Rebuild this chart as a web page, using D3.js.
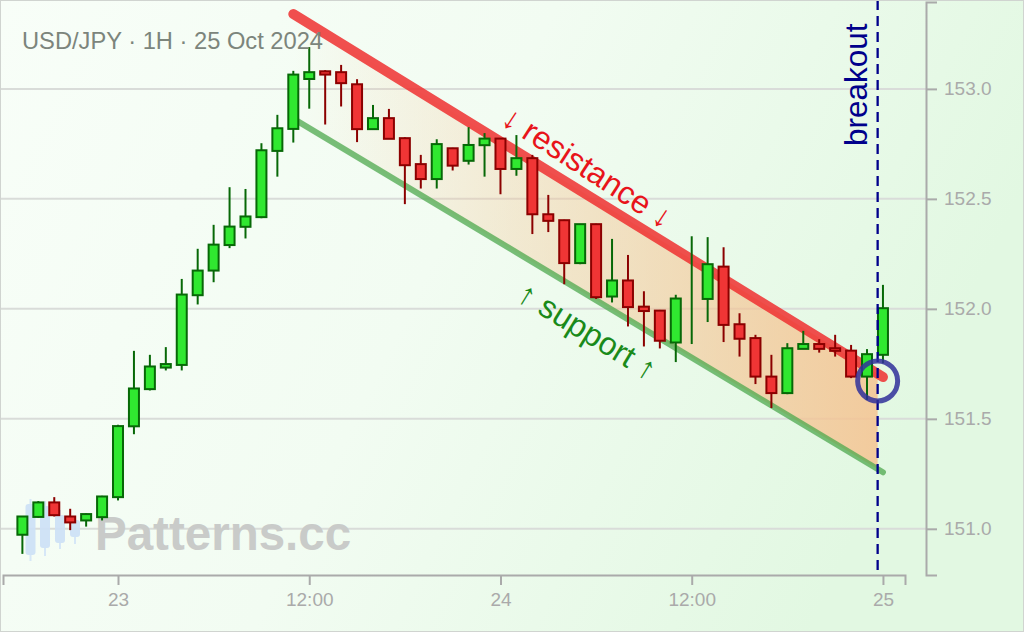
<!DOCTYPE html>
<html><head><meta charset="utf-8">
<script src="https://cdn.jsdelivr.net/npm/d3@7"></script>
<style>html,body{margin:0;padding:0;background:#fff}svg{display:block}</style>
</head><body>
<svg id="chart" width="1024" height="632"></svg>
<script>
// ---------------- data ----------------
const times = [
 "2024-10-22T18:00","2024-10-22T19:00","2024-10-22T20:00","2024-10-22T21:00","2024-10-22T22:00","2024-10-22T23:00",
 "2024-10-23T00:00","2024-10-23T01:00","2024-10-23T02:00","2024-10-23T03:00","2024-10-23T04:00","2024-10-23T05:00",
 "2024-10-23T06:00","2024-10-23T07:00","2024-10-23T08:00","2024-10-23T09:00","2024-10-23T10:00","2024-10-23T11:00",
 "2024-10-23T12:00","2024-10-23T13:00","2024-10-23T14:00","2024-10-23T15:00","2024-10-23T16:00","2024-10-23T17:00",
 "2024-10-23T18:00","2024-10-23T19:00","2024-10-23T20:00","2024-10-23T21:00","2024-10-23T22:00","2024-10-23T23:00",
 "2024-10-24T00:00","2024-10-24T01:00","2024-10-24T02:00","2024-10-24T03:00","2024-10-24T04:00","2024-10-24T05:00",
 "2024-10-24T06:00","2024-10-24T07:00","2024-10-24T08:00","2024-10-24T09:00","2024-10-24T10:00","2024-10-24T11:00",
 "2024-10-24T12:00","2024-10-24T13:00","2024-10-24T14:00","2024-10-24T15:00","2024-10-24T16:00","2024-10-24T17:00",
 "2024-10-24T18:00","2024-10-24T19:00","2024-10-24T20:00","2024-10-24T21:00","2024-10-24T22:00","2024-10-24T23:00",
 "2024-10-25T00:00"];
const opens = [150.973,151.054,151.120,151.056,151.038,151.053,151.144,151.466,151.635,151.733,
 151.745,152.062,152.174,152.290,152.373,152.417,152.718,152.818,153.045,153.080,
 153.076,153.021,152.817,152.867,152.776,152.658,152.590,152.730,152.673,152.744,
 152.774,152.636,152.685,152.430,152.403,152.208,152.385,152.056,152.129,152.010,
 151.992,151.847,152.050,152.045,152.192,151.930,151.867,151.692,151.617,151.818,
 151.840,151.821,151.810,151.692,151.791];
const highs = [151.056,151.126,151.144,151.091,151.070,151.150,151.473,151.809,151.791,151.826,
 152.136,152.273,152.382,152.553,152.545,152.753,152.882,153.082,153.190,153.085,
 153.109,153.044,152.927,152.909,152.780,152.700,152.771,152.732,152.826,152.799,
 152.776,152.790,152.700,152.518,152.405,152.386,152.387,152.318,152.245,152.080,
 151.995,152.064,152.330,152.326,152.280,151.980,151.882,151.791,151.844,151.900,
 151.862,151.882,151.836,151.817,152.109];
const lows = [150.886,151.050,151.056,150.994,151.010,151.038,151.129,151.430,151.629,151.720,
 151.720,152.020,152.121,152.276,152.320,152.412,152.601,152.756,152.910,152.838,
 152.920,152.758,152.817,152.773,152.476,152.547,152.547,152.629,152.656,152.601,
 152.521,152.605,152.340,152.349,152.112,152.203,152.045,152.029,151.920,151.829,
 151.820,151.758,151.840,151.940,151.849,151.783,151.658,151.549,151.612,151.818,
 151.801,151.783,151.685,151.586,151.753];
const closes = [151.056,151.120,151.062,151.029,151.067,151.147,151.467,151.638,151.738,151.749,
 152.065,152.174,152.292,152.374,152.420,152.721,152.821,153.065,153.076,153.065,
 153.026,152.817,152.867,152.773,152.653,152.590,152.749,152.651,152.745,152.774,
 152.636,152.685,152.430,152.400,152.208,152.385,152.053,152.129,152.008,151.990,
 151.855,152.047,152.050,152.203,151.927,151.864,151.692,151.617,151.821,151.840,
 151.818,151.809,151.692,151.794,152.003];

const resistanceTimes = ["2024-10-23T11:00","2024-10-25T00:00"];
const resistancePrices = [153.340, 151.690];
const supportTimes = ["2024-10-23T11:00","2024-10-25T00:00"];
const supportPrices = [152.865, 151.257];
const breakoutTime = "2024-10-24T23:40";
const breakoutPrice = 151.672;

const yTicks = [151.0, 151.5, 152.0, 152.5, 153.0];
const xDomain = ["2024-10-22T16:47","2024-10-25T01:23"];
const yDomain = [150.79, 153.395];
const titleText = "USD/JPY · 1H · 25 Oct 2024";

// ---------------- setup ----------------
const parse = d3.utcParse("%Y-%m-%dT%H:%M");
const W = 1024, H = 632;
const svg = d3.select("#chart");
const FONT = "'Liberation Sans', Arial, sans-serif";

const x = d3.scaleUtc().domain(xDomain.map(parse)).range([3, 905]);
const y = d3.scaleLinear().domain(yDomain).range([575, 2]);

const candles = times.map((t, i) => ({t: parse(t), o: opens[i], h: highs[i], l: lows[i], c: closes[i]}));

const defs = svg.append("defs");
const bg = defs.append("linearGradient").attr("id", "bg").attr("x1", 0).attr("y1", 0).attr("x2", 1).attr("y2", 0.3);
bg.append("stop").attr("offset", 0).attr("stop-color", "#f8fef8");
bg.append("stop").attr("offset", 0.5).attr("stop-color", "#f2fcf2");
bg.append("stop").attr("offset", 1).attr("stop-color", "#e2f8e2");

svg.append("rect").attr("width", W).attr("height", H).attr("fill", "url(#bg)");

// gridlines
svg.append("g").selectAll("line").data(yTicks).join("line")
  .attr("x1", 0).attr("x2", 926).attr("y1", d => y(d)).attr("y2", d => y(d))
  .attr("stroke", "#d9dcd9").attr("stroke-width", 2);

// watermark logo
const logo = [[30.5, 499, 561, 504, 555],[45, 501, 556, 506, 548],[60, 510, 549, 515, 543],[75, 516, 544, 520, 537]];
const lg = svg.append("g").attr("opacity", 0.9);
logo.forEach(d => {
  lg.append("line").attr("x1", d[0]).attr("x2", d[0]).attr("y1", d[1]).attr("y2", d[2]).attr("stroke", "#d3e5f8").attr("stroke-width", 2);
  lg.append("rect").attr("x", d[0] - 5).attr("y", d[3]).attr("width", 10).attr("height", d[4] - d[3]).attr("rx", 3).attr("fill", "#cde1f7");
});
svg.append("text").attr("x", 95).attr("y", 550).text("Patterns.cc")
  .attr("font-family", FONT).attr("font-weight", "bold").attr("font-size", 47.5).attr("fill", "#c9cbc9");

// channel fill
const rT = resistanceTimes.map(parse), sT = supportTimes.map(parse), bT = parse(breakoutTime);
const lineAt = (ts, ps, t) => ps[0] + (ps[1] - ps[0]) * ((t - ts[0]) / (ts[1] - ts[0]));
const chGrad = defs.append("linearGradient").attr("id", "ch").attr("gradientUnits", "userSpaceOnUse")
  .attr("x1", x(rT[0])).attr("x2", x(bT)).attr("y1", 0).attr("y2", 0);
chGrad.append("stop").attr("offset", 0).attr("stop-color", "#f5c391").attr("stop-opacity", 0.0);
chGrad.append("stop").attr("offset", 1).attr("stop-color", "#f5c391").attr("stop-opacity", 0.85);
const poly = [
  [x(rT[0]), y(resistancePrices[0])],
  [x(bT), y(lineAt(rT, resistancePrices, bT))],
  [x(bT), y(lineAt(sT, supportPrices, bT))],
  [x(sT[0]), y(supportPrices[0])]
];
svg.append("polygon").attr("points", poly.map(p => p.join(",")).join(" ")).attr("fill", "url(#ch)");

// support & resistance lines
svg.append("line").attr("x1", x(sT[0])).attr("y1", y(supportPrices[0])).attr("x2", x(sT[1])).attr("y2", y(supportPrices[1]))
  .attr("stroke", "#4da84d").attr("stroke-opacity", 0.75).attr("stroke-width", 6).attr("stroke-linecap", "round");
svg.append("line").attr("x1", x(rT[0])).attr("y1", y(resistancePrices[0])).attr("x2", x(rT[1])).attr("y2", y(resistancePrices[1]))
  .attr("stroke", "#ee3030").attr("stroke-opacity", 0.85).attr("stroke-width", 10).attr("stroke-linecap", "round");

// candles
const up = d => d.c >= d.o;
const cg = svg.append("g");
const cw = 10;
cg.selectAll("line").data(candles).join("line")
  .attr("x1", d => x(d.t)).attr("x2", d => x(d.t)).attr("y1", d => y(d.h)).attr("y2", d => y(d.l))
  .attr("stroke", d => up(d) ? "#076807" : "#8b0000").attr("stroke-width", 2);
cg.selectAll("rect").data(candles).join("rect")
  .attr("x", d => x(d.t) - cw / 2).attr("width", cw)
  .attr("y", d => y(Math.max(d.o, d.c))).attr("height", d => Math.abs(y(d.o) - y(d.c)))
  .attr("fill", d => up(d) ? "#30e830" : "#f03535")
  .attr("stroke", d => up(d) ? "#076807" : "#8b0000").attr("stroke-width", 2);

// axes
const xAxis = d3.axisBottom(x).ticks(d3.utcHour.every(12))
  .tickFormat(d => d.getUTCHours() === 0 ? d3.utcFormat("%-d")(d) : d3.utcFormat("%H:%M")(d))
  .tickSize(10).tickSizeOuter(10).tickPadding(8);
const gx = svg.append("g").attr("transform", "translate(0,575)").call(xAxis);
const yAxis = d3.axisRight(y).tickValues(yTicks).tickFormat(d3.format(".1f")).tickSize(11).tickSizeOuter(11).tickPadding(7);
const gy = svg.append("g").attr("transform", "translate(926,0)").call(yAxis);
[gx, gy].forEach(g => {
  g.selectAll(".domain").attr("stroke", "#aaaaaa").attr("stroke-width", 2);
  g.selectAll(".tick line").attr("stroke", "#aaaaaa").attr("stroke-width", 2);
  g.selectAll(".tick text").attr("fill", "#aaaaaa").attr("font-size", 19).attr("font-family", FONT);
});

// breakout marker
svg.append("line").attr("x1", x(bT)).attr("x2", x(bT)).attr("y1", 0).attr("y2", 575)
  .attr("stroke", "#00008b").attr("stroke-width", 2.3).attr("stroke-dasharray", "10,6");
svg.append("circle").attr("cx", x(bT)).attr("cy", y(breakoutPrice)).attr("r", 20)
  .attr("fill", "none").attr("stroke", "#30309a").attr("stroke-opacity", 0.85).attr("stroke-width", 5);
svg.append("text").attr("transform", `translate(${x(bT) - 11},146) rotate(-90)`)
  .text("breakout").attr("font-family", FONT).attr("font-size", 31.5).attr("fill", "#00008b");

// channel labels
const labelTime = x.invert(587.5);
const rx = x(labelTime), ry = y(lineAt(rT, resistancePrices, labelTime));
const sy = y(lineAt(sT, supportPrices, labelTime));
svg.append("text").attr("transform", `translate(${rx},${ry - 28}) rotate(33)`)
  .attr("text-anchor", "middle").attr("dominant-baseline", "central")
  .text("↓ resistance ↓").attr("font-family", FONT).attr("font-size", 32).attr("fill", "#e8141a");
svg.append("text").attr("transform", `translate(${rx},${sy + 36}) rotate(31.5)`)
  .attr("text-anchor", "middle").attr("dominant-baseline", "central")
  .text("↑ support ↑").attr("font-family", FONT).attr("font-size", 32).attr("fill", "#1a8a1a");

// title
svg.append("text").attr("x", 22).attr("y", 49).text(titleText)
  .attr("font-family", FONT).attr("font-size", 23.7).attr("fill", "#7c857c");

// frame
svg.append("rect").attr("x", 0.5).attr("y", 0.5).attr("width", W - 1).attr("height", H - 1)
  .attr("fill", "none").attr("stroke", "#d0d4d0");
</script>
</body></html>
